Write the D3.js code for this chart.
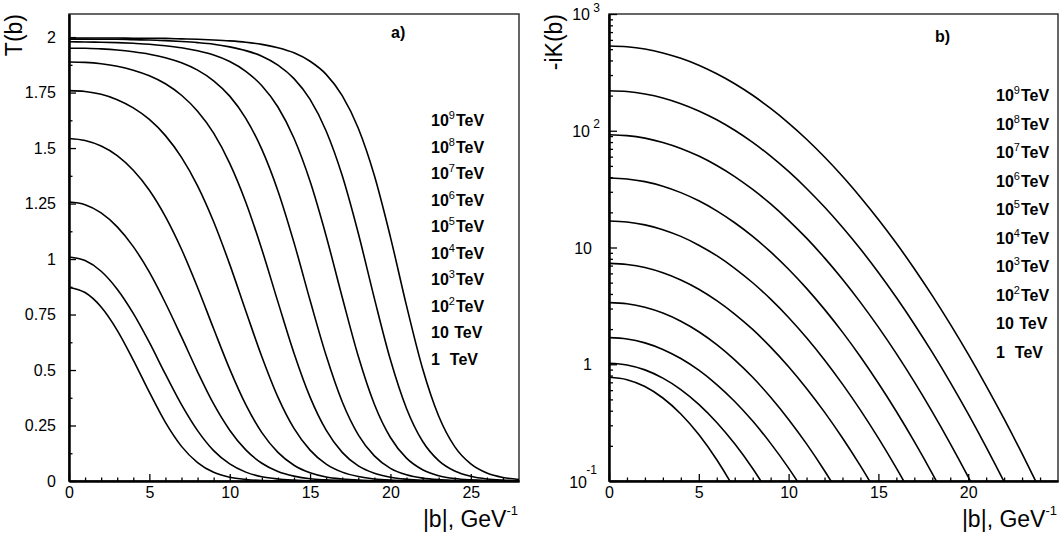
<!DOCTYPE html>
<html lang="en">
<head>
<script src="https://d3js.org/d3.v7.min.js"></script>
<style>
body { margin: 0; background: #fff; }
svg text { font-family: "Liberation Sans", Arial, sans-serif; fill: #000; }
.curve { fill: none; stroke: #000; stroke-width: 1.6px; }
</style>
</head>
<body>
<svg id="chart" width="1060" height="537"></svg>
<script>
// impact parameter grid |b| (GeV^-1)
var bValues = [0,1,2,3,4,5,6,7,8,9,10,11,12,13,14,15,16,17,18,19,20,21,22,23,24,25,26,27,28];

// panel a) T(b), one array per energy
var t1TeV   = [0.872,0.849,0.784,0.679,0.545,0.400,0.264,0.156,0.083,0.039,0.017,0.007,0.002,0.001,0,0,0,0,0,0,0,0,0,0,0,0,0,0,0];
var t10TeV  = [1.009,0.993,0.945,0.864,0.755,0.624,0.481,0.344,0.227,0.137,0.077,0.040,0.019,0.009,0.004,0.001,0,0,0,0,0,0,0,0,0,0,0,0,0];
var t1e2TeV = [1.257,1.245,1.208,1.145,1.056,0.941,0.802,0.649,0.492,0.347,0.229,0.140,0.080,0.043,0.022,0.010,0.005,0.002,0,0,0,0,0,0,0,0,0,0,0];
var t1e3TeV = [1.543,1.534,1.509,1.466,1.400,1.310,1.191,1.044,0.872,0.686,0.504,0.344,0.218,0.129,0.071,0.037,0.018,0.009,0.004,0.002,0,0,0,0,0,0,0,0,0];
var t1e4TeV = [1.759,1.755,1.742,1.718,1.681,1.629,1.556,1.458,1.330,1.168,0.976,0.766,0.560,0.378,0.237,0.139,0.076,0.040,0.020,0.009,0.004,0.002,0,0,0,0,0,0,0];
var t1e5TeV = [1.888,1.886,1.880,1.869,1.851,1.826,1.790,1.738,1.666,1.567,1.431,1.256,1.043,0.807,0.576,0.378,0.229,0.129,0.068,0.035,0.017,0.008,0.003,0.001,0,0,0,0,0];
var t1e6TeV = [1.950,1.950,1.947,1.942,1.934,1.923,1.907,1.884,1.851,1.803,1.734,1.634,1.494,1.307,1.074,0.814,0.565,0.357,0.208,0.113,0.057,0.028,0.013,0.006,0.003,0.001,0,0,0];
var t1e7TeV = [1.979,1.978,1.977,1.975,1.972,1.968,1.961,1.952,1.938,1.919,1.890,1.846,1.781,1.685,1.544,1.350,1.104,0.828,0.562,0.346,0.196,0.103,0.051,0.024,0.011,0.005,0.002,0.001,0];
var t1e8TeV = [1.991,1.991,1.990,1.990,1.988,1.987,1.984,1.980,1.975,1.968,1.956,1.939,1.914,1.874,1.813,1.719,1.577,1.376,1.116,0.823,0.546,0.327,0.179,0.092,0.045,0.021,0.009,0.004,0.002];
var t1e9TeV = [1.996,1.996,1.996,1.996,1.995,1.995,1.994,1.992,1.990,1.987,1.983,1.977,1.967,1.952,1.929,1.891,1.832,1.736,1.589,1.376,1.099,0.790,0.507,0.293,0.155,0.077,0.036,0.016,0.007];

// panel b) -iK(b), starting at b = 0, step 1
var k1TeV   = [0.773,0.738,0.645,0.514,0.375,0.250,0.152,0.0845,0.0430];
var k10TeV  = [1.019,0.986,0.895,0.760,0.607,0.453,0.317,0.208,0.128,0.0736];
var k1e2TeV = [1.690,1.648,1.524,1.340,1.119,0.889,0.670,0.480,0.326,0.210,0.129,0.0752];
var k1e3TeV = [3.373,3.296,3.076,2.742,2.333,1.897,1.472,1.091,0.773,0.522,0.337,0.208,0.1225,0.0689];
var k1e4TeV = [7.31,7.16,6.745,6.081,5.272,4.395,3.508,2.692,1.986,1.403,0.953,0.621,0.389,0.2333,0.1346,0.0746];
var k1e5TeV = [16.87,16.56,15.63,14.22,12.45,10.47,8.51,6.637,4.989,3.614,2.518,1.687,1.089,0.676,0.4046,0.2328,0.129,0.069];
var k1e6TeV = [39.36,38.64,36.64,33.50,29.51,25.12,20.6,16.29,12.45,9.16,6.516,4.467,2.951,1.884,1.159,0.687,0.3936,0.2173,0.1159,0.0596];
var k1e7TeV = [92.5,90.9,86.5,79.4,70.6,60.7,50.4,40.5,31.4,23.6,17.1,12.02,8.15,5.346,3.388,2.078,1.232,0.706,0.391,0.2094,0.1086,0.0543];
var k1e8TeV = [220.3,216.8,206.5,191,170.6,147.9,124.2,100.9,79.4,60.6,44.8,32.05,22.2,14.9,9.70,6.11,3.726,2.203,1.262,0.6998,0.3758,0.1954,0.0985,0.0481];
var k1e9TeV = [532,524,501,464,417,364,307.7,252.9,201.4,155.3,116.4,84.6,59.6,40.8,27.0,17.4,10.87,6.58,3.866,2.203,1.219,0.653,0.340,0.1714,0.0839];

// legend, top to bottom
var legendBase = ["10","10","10","10","10","10","10","10","10 ","1  "];
var legendSup  = ["9","8","7","6","5","4","3","2","",""];

// ticks
var tMajor = [0,0.25,0.5,0.75,1,1.25,1.5,1.75,2];
var tMinor = [0.125,0.375,0.625,0.875,1.125,1.375,1.625,1.875];
var bMajorA = [0,5,10,15,20,25];
var bMajorB = [0,5,10,15,20];
var kMajor = [0.1,1,10,100,1000];
var kMinor = [0.2,0.3,0.4,0.5,0.6,0.7,0.8,0.9,2,3,4,5,6,7,8,9,20,30,40,50,60,70,80,90,200,300,400,500,600,700,800,900];

var tCurves = [t1TeV,t10TeV,t1e2TeV,t1e3TeV,t1e4TeV,t1e5TeV,t1e6TeV,t1e7TeV,t1e8TeV,t1e9TeV];
var kCurves = [k1TeV,k10TeV,k1e2TeV,k1e3TeV,k1e4TeV,k1e5TeV,k1e6TeV,k1e7TeV,k1e8TeV,k1e9TeV];

var svg = d3.select("#chart");

function frame(id, x, y) {
    var x0 = x.range()[0], x1 = x.range()[1], y0 = y.range()[1], y1 = y.range()[0];
    svg.append("clipPath").attr("id", id).append("rect")
        .attr("x", x0).attr("y", y0).attr("width", x1 - x0).attr("height", y1 - y0);
    svg.append("rect").attr("x", x0).attr("y", y0).attr("width", x1 - x0).attr("height", y1 - y0)
        .attr("fill", "none").attr("stroke", "#333").attr("stroke-width", 1.5);
}

function styleAxis(g) {
    g.select(".domain").attr("stroke", "#000").attr("stroke-width", 2);
    g.selectAll(".tick line").attr("stroke", "#000").attr("stroke-width", 1.3);
    g.selectAll("text").attr("font-size", 16).attr("font-family", "Liberation Sans, Arial, sans-serif");
}

function xAxes(x, yb, major) {
    svg.append("g").attr("transform", "translate(0," + yb + ")")
        .call(d3.axisBottom(x).tickValues(d3.range(1, x.domain()[1]).filter(function (d) { return d % 5; }))
            .tickSize(-3.5).tickSizeOuter(0).tickFormat(""))
        .call(styleAxis);
    svg.append("g").attr("transform", "translate(0," + yb + ")")
        .call(d3.axisBottom(x).tickValues(major).tickSize(-7).tickSizeOuter(0).tickPadding(6).tickFormat(d3.format("d")))
        .call(styleAxis);
}

function xTitle(xEnd) {
    var t = svg.append("text").attr("x", xEnd).attr("y", 527).attr("text-anchor", "end").attr("font-size", 23);
    t.append("tspan").text("|b|, GeV");
    t.append("tspan").attr("font-size", 13).attr("dy", -12).text("-1");
}

function legend(x, y0, step) {
    legendBase.forEach(function (s, i) {
        var t = svg.append("text").attr("x", x).attr("y", y0 + i * step)
            .attr("font-size", 16).attr("font-weight", "bold").style("white-space", "pre");
        t.append("tspan").text(s);
        if (legendSup[i]) t.append("tspan").attr("font-size", 11).attr("font-weight", "normal").attr("dy", -7).text(legendSup[i]);
        t.append("tspan").attr("dy", legendSup[i] ? 7 : 0).attr("dx", 1).text("TeV");
    });
}

// ---------- panel a ----------
var xa = d3.scaleLinear().domain([0, 28]).range([69, 519]);
var ya = d3.scaleLinear().domain([0, 2.104]).range([481, 14]);
frame("clipA", xa, ya);

svg.append("g").attr("transform", "translate(69,0)")
    .call(d3.axisLeft(ya).tickValues(tMinor).tickSize(-3.5).tickSizeOuter(0).tickFormat(""))
    .call(styleAxis);
svg.append("g").attr("transform", "translate(69,0)")
    .call(d3.axisLeft(ya).tickValues(tMajor).tickSize(-7).tickSizeOuter(0).tickPadding(13).tickFormat(function (d) { return String(d); }))
    .call(styleAxis);
xAxes(xa, 481, bMajorA);

var lineA = d3.line().x(function (d, i) { return xa(bValues[i]); }).y(function (d) { return ya(d); }).curve(d3.curveMonotoneX);
svg.append("g").attr("clip-path", "url(#clipA)").selectAll("path").data(tCurves).enter()
    .append("path").attr("class", "curve").attr("d", lineA);

svg.append("text").attr("transform", "translate(22,14) rotate(-90)").attr("text-anchor", "end").attr("font-size", 23).text("T(b)");
xTitle(518);
svg.append("text").attr("x", 391).attr("y", 38).attr("font-size", 16).attr("font-weight", "bold").text("a)");
legend(431, 126, 26.5);

// ---------- panel b ----------
var xb = d3.scaleLinear().domain([0, 25]).range([609, 1058]);
var yb = d3.scaleLog().domain([0.1, 1000]).range([481, 14]);
frame("clipB", xb, yb);

svg.append("g").attr("transform", "translate(609,0)")
    .call(d3.axisLeft(yb).tickValues(kMinor).tickSize(-4).tickSizeOuter(0).tickFormat(""))
    .call(styleAxis);
var gk = svg.append("g").attr("transform", "translate(609,0)")
    .call(d3.axisLeft(yb).tickValues(kMajor).tickSize(-8).tickSizeOuter(0).tickFormat(""))
    .call(styleAxis);
var kLabel = {0.1: ["10", "-1"], 1: ["1", ""], 10: ["10", ""], 100: ["10", "2"], 1000: ["10", "3"]};
gk.selectAll(".tick").each(function (d) {
    var g = d3.select(this), lab = kLabel[d];
    var low = d === 0.1;
    g.append("text").attr("x", lab[1] ? (low ? -22 : -19) : -17).attr("y", low ? 6 : 5.5)
        .attr("text-anchor", "end").attr("font-size", 16).text(lab[0]);
    if (lab[1]) g.append("text").attr("x", low ? -12 : -9).attr("y", low ? -8 : -3)
        .attr("font-size", 12).text(lab[1]);
});
xAxes(xb, 481, bMajorB);

var lineB = d3.line().x(function (d, i) { return xb(bValues[i]); }).y(function (d) { return yb(d); }).curve(d3.curveMonotoneX);
svg.append("g").attr("clip-path", "url(#clipB)").selectAll("path").data(kCurves).enter()
    .append("path").attr("class", "curve").attr("d", lineB);

svg.append("text").attr("transform", "translate(562,14) rotate(-90)").attr("text-anchor", "end").attr("font-size", 23).text("-iK(b)");
xTitle(1057);
svg.append("text").attr("x", 935).attr("y", 42).attr("font-size", 16).attr("font-weight", "bold").text("b)");
legend(996, 101, 28.5);
</script>
</body>
</html>
